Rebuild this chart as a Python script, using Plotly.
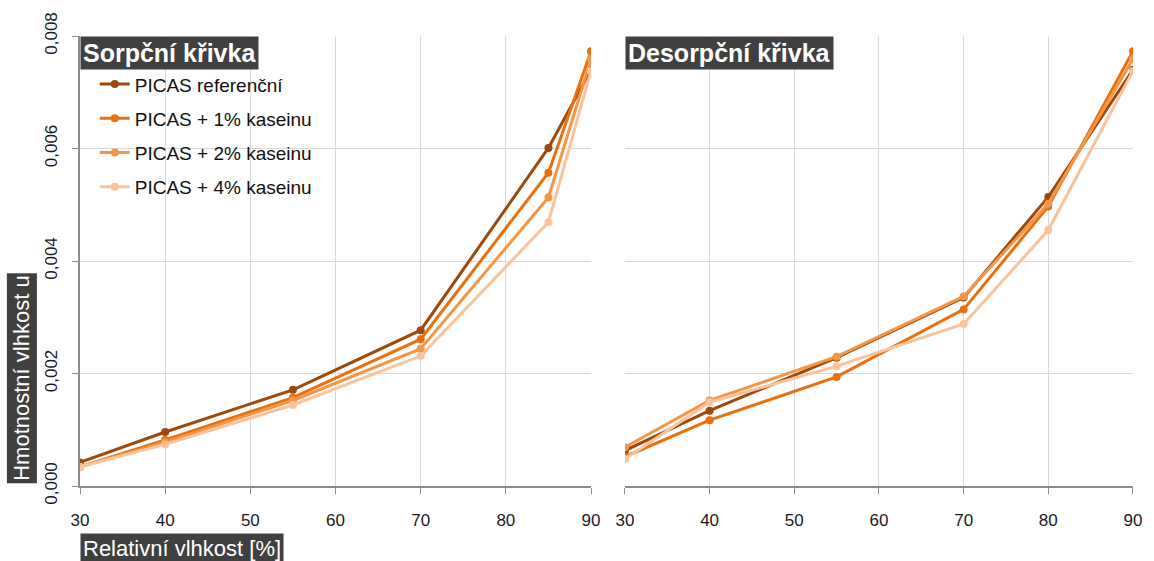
import plotly.graph_objects as go

# Relative humidity levels [%]
rh_sorption = [30, 40, 55, 70, 85, 90]
rh_desorption = [30, 40, 55, 70, 80, 90]

series_names = [
    "PICAS referenční",
    "PICAS + 1% kaseinu",
    "PICAS + 2% kaseinu",
    "PICAS + 4% kaseinu",
]
series_colors = ["#9C4A0C", "#E9700D", "#F59647", "#FBC39B"]

# Moisture content u, sorption branch
sorption_ref = [0.00042, 0.00096, 0.00171, 0.00277, 0.00601, 0.00740]
sorption_1 = [0.00034, 0.00082, 0.00157, 0.00261, 0.00557, 0.00773]
sorption_2 = [0.00034, 0.00078, 0.00152, 0.00244, 0.00513, 0.00759]
sorption_4 = [0.00034, 0.00074, 0.00144, 0.00231, 0.00469, 0.00738]

# Moisture content u, desorption branch
desorption_ref = [0.00063, 0.00134, 0.00228, 0.00335, 0.00514, 0.00740]
desorption_1 = [0.00052, 0.00117, 0.00194, 0.00314, 0.00497, 0.00773]
desorption_2 = [0.00069, 0.00152, 0.00230, 0.00337, 0.00502, 0.00759]
desorption_4 = [0.00048, 0.00149, 0.00213, 0.00288, 0.00455, 0.00738]

y_ticks = [0.000, 0.002, 0.004, 0.006, 0.008]

sorption = [sorption_ref, sorption_1, sorption_2, sorption_4]
desorption = [desorption_ref, desorption_1, desorption_2, desorption_4]

fig = go.Figure()

for i, (name, color) in enumerate(zip(series_names, series_colors)):
    fig.add_trace(go.Scatter(
        x=rh_sorption, y=sorption[i], name=name, mode="lines+markers",
        line=dict(color=color, width=3), marker=dict(color=color, size=8),
        legendgroup=f"g{i}", xaxis="x", yaxis="y",
    ))
for i, (name, color) in enumerate(zip(series_names, series_colors)):
    fig.add_trace(go.Scatter(
        x=rh_desorption, y=desorption[i], name=name, mode="lines+markers",
        line=dict(color=color, width=3), marker=dict(color=color, size=8),
        legendgroup=f"g{i}", showlegend=False, xaxis="x2", yaxis="y2",
    ))

grid = "#D9D9D9"
axis_col = "#8C8C8C"
tick_font = dict(family="Liberation Sans, Arial, sans-serif", size=17, color="#1a1a1a")

x_common = dict(
    range=[30, 90], tickmode="array", tickvals=[30, 40, 50, 60, 70, 80, 90],
    showgrid=True, gridcolor=grid, gridwidth=1,
    showline=True, linecolor=axis_col, linewidth=1.5,
    ticks="outside", ticklen=6, tickcolor=axis_col,
    tickfont=tick_font, ticklabelstandoff=12, zeroline=False,
)

fig.update_layout(
    width=1154, height=561,
    margin=dict(l=80, r=19, t=33, b=75),
    paper_bgcolor="white", plot_bgcolor="white",
    separators=", ",
    font=dict(family="Liberation Sans, Arial, sans-serif", size=16, color="#111"),
    xaxis=dict(domain=[0, 0.4853], anchor="y", **x_common),
    xaxis2=dict(domain=[0.5175, 1], anchor="y2", **x_common),
    yaxis=dict(
        range=[0, 0.008], tickmode="array", tickvals=y_ticks, tickformat=".3f",
        showgrid=True, gridcolor=grid, zeroline=False,
        showline=True, linecolor=axis_col, linewidth=1.5,
        ticks="outside", ticklen=6, tickcolor=axis_col,
        tickangle=-90, tickfont=tick_font, ticklabelstandoff=8,
        anchor="x",
    ),
    yaxis2=dict(
        range=[0, 0.008], tickmode="array", tickvals=y_ticks,
        showgrid=True, gridcolor=grid, zeroline=False,
        showline=False, showticklabels=False, anchor="x2",
    ),
    showlegend=True,
    legend=dict(
        x=0.014, y=0.935, xanchor="left", yanchor="top",
        bgcolor="rgba(255,255,255,0)", font=dict(size=19, color="#111"),
        tracegroupgap=6.5, itemwidth=30,
    ),
)

title_font = dict(family="Liberation Sans, Arial, sans-serif", size=25, color="white")
label_font = dict(family="Liberation Sans, Arial, sans-serif", size=22, color="white")

fig.add_annotation(
    text="<b>Sorpční křivka</b>", xref="x domain", yref="y domain",
    x=0, y=1, xanchor="left", yanchor="top", showarrow=False,
    font=title_font, bgcolor="#404040", borderpad=2,
)
fig.add_annotation(
    text="<b>Desorpční křivka</b>", xref="x2 domain", yref="y2 domain",
    x=0, y=1, xanchor="left", yanchor="top", showarrow=False,
    font=title_font, bgcolor="#404040", borderpad=2,
)
fig.add_annotation(
    text="Hmotnostní vlhkost u", xref="paper", yref="paper",
    x=-0.055, y=0.004, xanchor="center", yanchor="bottom", textangle=-90,
    showarrow=False, font=label_font, bgcolor="#404040", borderpad=2,
)
fig.add_annotation(
    text="Relativní vlhkost [%]", xref="paper", yref="paper",
    x=0, y=-0.104, xanchor="left", yanchor="top",
    showarrow=False, font=label_font, bgcolor="#404040", borderpad=2,
)

fig.write_html("out.html")
